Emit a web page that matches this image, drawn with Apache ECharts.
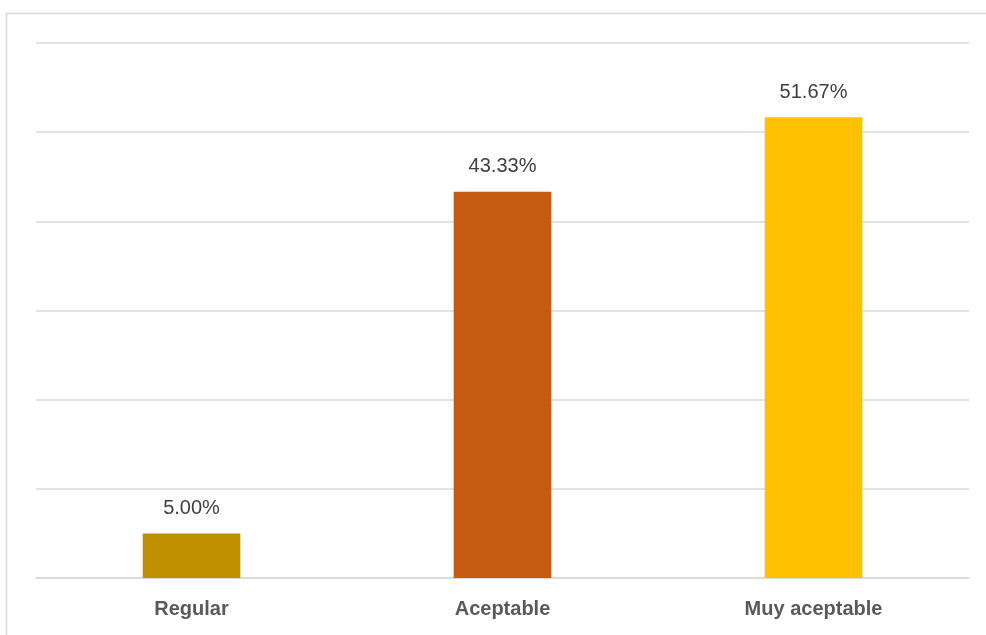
<!DOCTYPE html>
<html>
<head>
<meta charset="utf-8">
<script src="https://cdn.jsdelivr.net/npm/echarts@6/dist/echarts.min.js"></script>
<style>
html,body{margin:0;padding:0;background:#fff;}
#c{width:986px;height:635px;}
</style>
</head>
<body>
<div id="c"></div>
<script>
const categories = ['Regular', 'Aceptable', 'Muy aceptable'];
const values = [5.00, 43.33, 51.67];
const barColors = ['#BF9000', '#C55A11', '#FFC000'];

const chart = echarts.init(document.getElementById('c'), null, {renderer: 'canvas'});
chart.setOption({
  animation: false,
  backgroundColor: '#ffffff',
  graphic: [{
    type: 'rect',
    silent: true,
    shape: {x: 6.5, y: 13.5, width: 1100, height: 800},
    style: {fill: null, stroke: '#d9d9d9', lineWidth: 1.5}
  }],
  grid: {left: 36, right: 17, top: 43, bottom: 57, containLabel: false},
  xAxis: {
    type: 'category',
    data: categories,
    axisTick: {show: false},
    axisLine: {show: true, lineStyle: {color: '#d9d9d9', width: 1.5}},
    axisLabel: {
      color: '#595959',
      fontFamily: 'Liberation Sans, Arial, sans-serif',
      fontWeight: 'bold',
      fontSize: 20,
      margin: 21
    }
  },
  yAxis: {
    type: 'value',
    min: 0,
    max: 60,
    interval: 10,
    axisLabel: {show: false},
    axisLine: {show: false},
    axisTick: {show: false},
    splitLine: {lineStyle: {color: '#d9d9d9', width: 1.5}}
  },
  series: [{
    type: 'bar',
    barWidth: '31.4%',
    data: values.map((v, i) => ({value: v, itemStyle: {color: barColors[i]}})),
    label: {
      show: true,
      position: 'top',
      distance: 15,
      color: '#404040',
      fontFamily: 'Liberation Sans, Arial, sans-serif',
      fontSize: 20,
      formatter: p => p.value.toFixed(2) + '%'
    }
  }]
});
</script>
</body>
</html>
